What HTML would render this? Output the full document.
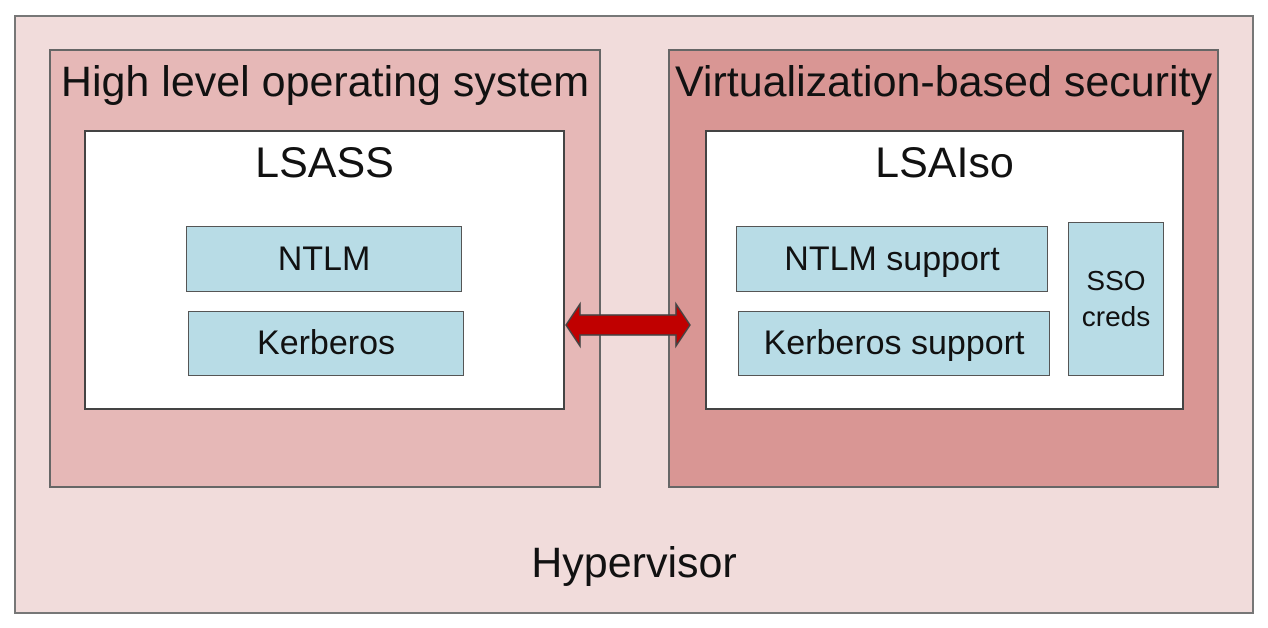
<!DOCTYPE html>
<html><head><style>
body{margin:0;width:1268px;height:628px;background:#fff;position:relative;font-family:"Liberation Sans",Arial,sans-serif;overflow:hidden}
.b{position:absolute;box-sizing:border-box;border:2px solid #666}
.t{position:absolute;left:0;right:0;text-align:center;color:#111;white-space:nowrap}
.c{display:flex;align-items:center;justify-content:center;text-align:center;font-size:34px;color:#111;background:#b8dce6;border-width:1.5px;border-color:#555}
</style></head><body>
<div class="b" style="left:14px;top:15px;width:1240px;height:599px;background:#f1dcdb;border-color:#777"></div>
<div class="t" style="left:14px;width:1240px;top:539px;font-size:43px">Hypervisor</div>
<div class="b" style="left:49px;top:49px;width:552px;height:439px;background:#e6b8b7"></div>
<div class="t" style="left:49px;width:552px;top:58px;font-size:43px">High level operating system</div>
<div class="b" style="left:668px;top:49px;width:551px;height:439px;background:#d99694"></div>
<div class="t" style="left:668px;width:551px;top:58px;font-size:43px">Virtualization-based security</div>
<div class="b" style="left:84px;top:130px;width:481px;height:280px;background:#fff;border-color:#444"></div>
<div class="t" style="left:84px;width:481px;top:139px;font-size:43px">LSASS</div>
<div class="b" style="left:705px;top:130px;width:479px;height:280px;background:#fff;border-color:#444"></div>
<div class="t" style="left:705px;width:479px;top:139px;font-size:43px">LSAIso</div>
<div class="b c" style="left:186px;top:226px;width:276px;height:66px">NTLM</div>
<div class="b c" style="left:188px;top:311px;width:276px;height:65px">Kerberos</div>
<div class="b c" style="left:736px;top:226px;width:312px;height:66px">NTLM support</div>
<div class="b c" style="left:738px;top:311px;width:312px;height:65px">Kerberos support</div>
<div class="b c" style="left:1068px;top:222px;width:96px;height:154px;font-size:28px;line-height:36px">SSO<br>creds</div>
<svg style="position:absolute;left:0;top:0" width="1268" height="628">
<polygon points="566,325 580,304 580,315 676,315 676,304 690,325 676,346 676,335 580,335 580,346" fill="#c00000" stroke="#444" stroke-width="1.5"/>
</svg>
</body></html>
